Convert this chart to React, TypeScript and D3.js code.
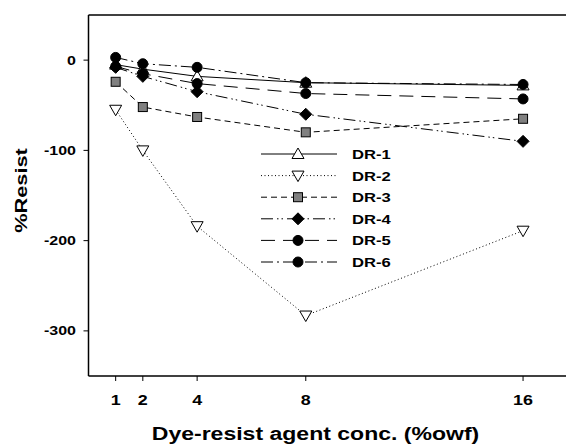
import React from "react";
import * as d3 from "d3";

const concentrations = [1, 2, 4, 8, 16];
const seriesNames = ["DR-1", "DR-2", "DR-3", "DR-4", "DR-5", "DR-6"];
const dr1 = [-5, -10, -18, -25, -28];
const dr2 = [-55, -100, -184, -283, -189];
const dr3 = [-24, -52, -63, -80, -65];
const dr4 = [-8, -18, -35, -60, -90];
const dr5 = [-7, -15, -26, -37, -43];
const dr6 = [3, -4, -8, -25, -27];
const yTicks = [0, -100, -200, -300];
const xTicks = [1, 2, 4, 8, 16];

const seriesValues = [dr1, dr2, dr3, dr4, dr5, dr6];
const dashes = ["", "1,2.5", "6,4", "12,4,1.5,3,1.5,4", "14,8", "12,4,2,4"];
const markers = ["triUp", "triDown", "square", "diamond", "circle", "circle"];

const W = 566;
const H = 444;
const SX = 1.28;

function Marker({ kind, cx, cy }: { kind: string; cx: number; cy: number }) {
  if (kind === "triUp") {
    const r = 6;
    const p = `M${cx},${cy - r} L${cx + r},${cy + r * 0.75} L${cx - r},${cy + r * 0.75} Z`;
    return <path d={p} fill="white" stroke="black" strokeWidth={1} />;
  }
  if (kind === "triDown") {
    const r = 6;
    const p = `M${cx},${cy + r} L${cx + r},${cy - r * 0.75} L${cx - r},${cy - r * 0.75} Z`;
    return <path d={p} fill="white" stroke="black" strokeWidth={1} />;
  }
  if (kind === "square") {
    const s = 4.5;
    return <rect x={cx - s} y={cy - s} width={2 * s} height={2 * s} fill="#808080" stroke="black" strokeWidth={1} />;
  }
  if (kind === "diamond") {
    const r = 6;
    const p = `M${cx},${cy - r} L${cx + r},${cy} L${cx},${cy + r} L${cx - r},${cy} Z`;
    return <path d={p} fill="black" stroke="black" strokeWidth={1} />;
  }
  return <circle cx={cx} cy={cy} r={5} fill="black" stroke="black" strokeWidth={1} />;
}

function SText({ x, y, children, size, anchor, rotate }: any) {
  return (
    <text
      transform={`translate(${x},${y})${rotate ? ` rotate(${rotate})` : ""} scale(${SX},1)`}
      fontFamily="Liberation Sans, Arial, sans-serif"
      fontWeight="bold"
      fontSize={size}
      textAnchor={anchor}
      fill="black"
    >
      {children}
    </text>
  );
}

export default function App() {
  const x = d3.scaleLinear().domain([0, 18]).range([88.5, 88.5 + 18 * 27.16]);
  const y = d3.scaleLinear().domain([-350, 50]).range([376, 15]);
  const line = d3
    .line<number>()
    .x((_, i) => x(concentrations[i]))
    .y((d) => y(d));

  const left = x(0);
  const top = y(50);
  const bottom = y(-350);

  const legX1 = 261;
  const legX2 = 337;
  const legMid = 298;
  const legY0 = 154;
  const legStep = 21.6;

  return (
    <div style={{ position: "fixed", left: 0, top: 0 }}>
      <svg width={W} height={H} style={{ display: "block", background: "white" }}>
        <rect x={0} y={0} width={W} height={H} fill="white" />
        {/* frame */}
        <line x1={left} y1={top} x2={W} y2={top} stroke="black" strokeWidth={1.5} />
        <line x1={left} y1={top} x2={left} y2={bottom} stroke="black" strokeWidth={1.5} />
        <line x1={left} y1={bottom} x2={W} y2={bottom} stroke="black" strokeWidth={1.5} />
        {/* y ticks */}
        {yTicks.map((t) => (
          <g key={"y" + t}>
            <line x1={left - 5} x2={left} y1={y(t)} y2={y(t)} stroke="black" strokeWidth={1} />
            <SText x={76} y={y(t) + 4.5} size={12.5} anchor="end">
              {t}
            </SText>
          </g>
        ))}
        {/* x ticks */}
        {xTicks.map((t) => (
          <g key={"x" + t}>
            <line x1={x(t)} x2={x(t)} y1={bottom} y2={bottom + 5} stroke="black" strokeWidth={1} />
            <SText x={x(t)} y={405} size={14} anchor="middle">
              {t}
            </SText>
          </g>
        ))}
        {/* axis titles */}
        <SText x={315.5} y={440} size={18} anchor="middle">
          Dye-resist agent conc. (%owf)
        </SText>
        <SText x={27} y={190.5} size={17} anchor="middle" rotate={-90}>
          %Resist
        </SText>
        {/* series */}
        {seriesValues.map((vals, si) => (
          <g key={seriesNames[si]}>
            <path d={line(vals) || ""} fill="none" stroke="black" strokeWidth={1} strokeDasharray={dashes[si]} />
          </g>
        ))}
        {seriesValues.map((vals, si) => (
          <g key={"m" + seriesNames[si]}>
            {vals.map((v, i) => (
              <Marker key={i} kind={markers[si]} cx={x(concentrations[i])} cy={y(v)} />
            ))}
          </g>
        ))}
        {/* legend */}
        {seriesNames.map((name, si) => {
          const ly = legY0 + si * legStep;
          return (
            <g key={"leg" + name}>
              <line x1={legX1} x2={legX2} y1={ly} y2={ly} stroke="black" strokeWidth={1} strokeDasharray={dashes[si]} />
              <Marker kind={markers[si]} cx={legMid} cy={ly} />
              <SText x={352} y={ly + 5} size={13} anchor="start">
                {name}
              </SText>
            </g>
          );
        })}
      </svg>
    </div>
  );
}
